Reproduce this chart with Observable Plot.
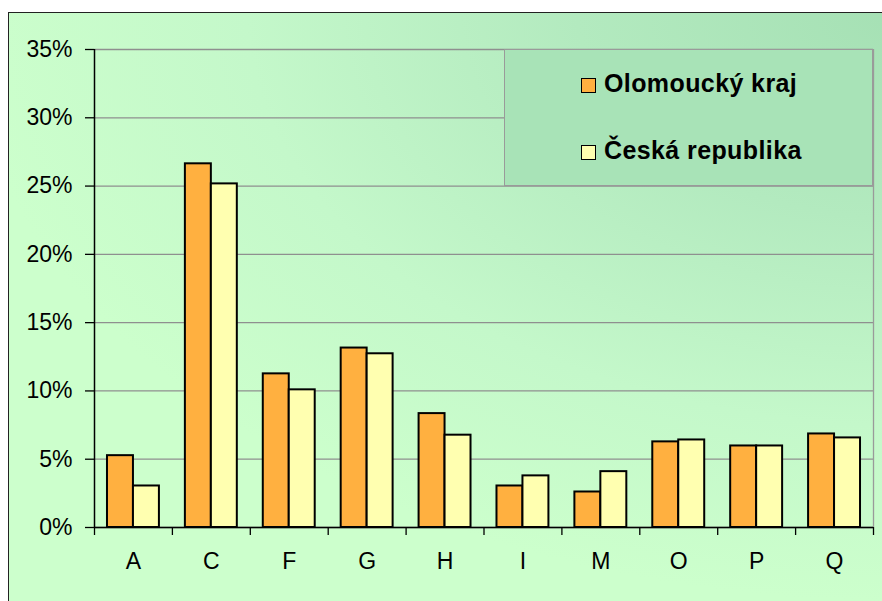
<!DOCTYPE html>
<html><head><meta charset="utf-8">
<script src="https://cdn.jsdelivr.net/npm/d3@7"></script>
<script src="https://cdn.jsdelivr.net/npm/@observablehq/plot@0.6"></script>
<style>
html,body{margin:0;padding:0;background:#fff;width:882px;height:601px;overflow:hidden;font-family:"Liberation Sans",Arial,sans-serif;}
#bg{position:absolute;left:8px;top:12px;width:900px;height:620px;border-left:1.5px solid #222;border-top:1.5px solid #222;
background:radial-gradient(ellipse 105% 95% at 100% 0%, #a5e0b4 0%, #b3eabf 35%, #c4f8ca 70%, #ccffcc 100%);}
#chart{position:absolute;left:0;top:0;}
#legend{position:absolute;left:504px;top:49px;width:369px;height:137px;background:#a8e3b7;border:1px solid #9a9a9a;box-sizing:border-box;}
.sw{position:absolute;left:76px;width:13px;height:13px;border:1.5px solid #000;}
.lt{position:absolute;left:99px;font-size:25px;font-weight:bold;letter-spacing:0.4px;line-height:24px;white-space:nowrap;color:#000;}
</style>
</head><body>
<div id="bg"></div>
<div id="chart"></div>
<div id="legend"></div>
<script>
const categories = ["A","C","F","G","H","I","M","O","P","Q"];
const seriesNames = ["Olomoucký kraj","Česká republika"];
const olomoucky = [5.26, 26.63, 11.25, 13.14, 8.34, 3.04, 2.6, 6.27, 5.97, 6.85];
const ceskaRep = [3.04, 25.16, 10.08, 12.72, 6.76, 3.78, 4.09, 6.41, 5.97, 6.56];
const yTicks = [0, 5, 10, 15, 20, 25, 30, 35];
const colors = ["#ffb040", "#ffffb0"];

const W = 882, H = 601, ml = 94, mr = 9, mt = 49, mb = 74;
const step = (W - ml - mr) / categories.length;
const rowsO = categories.map((c, i) => ({cat: c, value: olomoucky[i]}));
const rowsC = categories.map((c, i) => ({cat: c, value: ceskaRep[i]}));

const chart = Plot.plot({
  width: W, height: H, marginLeft: ml, marginRight: mr, marginTop: mt, marginBottom: mb,
  style: {background: "transparent", fontFamily: "Liberation Sans, Arial, sans-serif", fontSize: "23px", color: "#000", overflow: "visible"},
  x: {domain: categories, padding: 0, round: false, axis: null, label: null},
  y: {domain: [0, 35], axis: null, label: null},
  marks: [
    Plot.gridY(yTicks, {stroke: "#8f8f8f", strokeOpacity: 1, strokeWidth: 1.3}),
    Plot.ruleX([categories[categories.length - 1]], {dx: step / 2, y1: 0, y2: 35, stroke: "#9a9a9a", strokeWidth: 1.3}),
    Plot.barY(rowsO, {x: "cat", y: "value", fill: colors[0], stroke: "#000", strokeWidth: 2, insetLeft: step / 6, insetRight: step / 2}),
    Plot.barY(rowsC, {x: "cat", y: "value", fill: colors[1], stroke: "#000", strokeWidth: 2, insetLeft: step / 2, insetRight: step / 6}),
    Plot.ruleY([0], {stroke: "#000", strokeWidth: 1.5}),
    Plot.ruleX([categories[0]], {dx: -step / 2, y1: 0, y2: 35, stroke: "#000", strokeWidth: 1.5}),
    Plot.axisY(yTicks, {label: null, tickSize: 9, tickPadding: 13, tickFormat: d => d + "%", stroke: "#000", strokeWidth: 1.3, fill: "#000", fontSize: 23, letterSpacing: 0.5}),
    Plot.axisX({label: null, tickSize: 0, tickPadding: 25, fontSize: 23, fill: "#000", letterSpacing: 0.5}),
    Plot.axisX({label: null, tickSize: 8, tickFormat: () => "", dx: -step / 2, stroke: "#000", strokeWidth: 1.3}),
    Plot.axisX([categories[categories.length - 1]], {label: null, tickSize: 8, tickFormat: () => "", dx: step / 2, stroke: "#000", strokeWidth: 1.3})
  ]
});
document.getElementById("chart").appendChild(chart);

const legend = document.getElementById("legend");
const tops = [20.5, 87.5];
seriesNames.forEach((name, i) => {
  const sw = document.createElement("div");
  sw.className = "sw";
  sw.style.top = (tops[i] + 7.5) + "px";
  sw.style.background = colors[i];
  legend.appendChild(sw);
  const t = document.createElement("div");
  t.className = "lt";
  t.style.top = tops[i] + "px";
  t.textContent = name;
  legend.appendChild(t);
});
</script>
</body></html>
